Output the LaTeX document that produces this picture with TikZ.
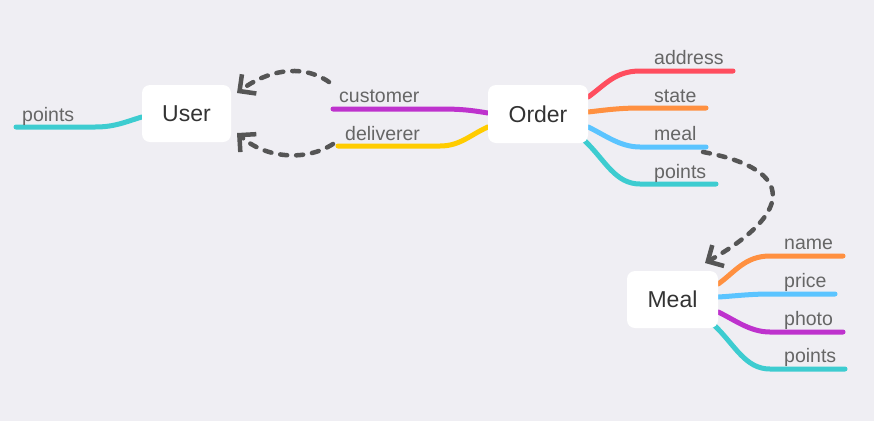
\documentclass[tikz,border=0pt]{standalone}
\usepackage{fontspec}
\setmainfont{Liberation Sans}
\usetikzlibrary{arrows.meta}
\definecolor{bg}{RGB}{239,238,243}
\definecolor{cCyan}{RGB}{61,204,208}
\definecolor{cPurple}{RGB}{190,50,205}
\definecolor{cYellow}{RGB}{255,204,0}
\definecolor{cRed}{RGB}{255,77,94}
\definecolor{cOrange}{RGB}{255,144,64}
\definecolor{cBlue}{RGB}{91,196,255}
\definecolor{cDash}{RGB}{85,85,85}
\definecolor{cLabel}{RGB}{102,102,102}
\definecolor{cText}{RGB}{51,51,51}
\tikzset{
  topic/.style={fill=white, rounded corners=8pt, inner sep=0pt, text=cText,
    font=\fontsize{23}{27}\selectfont},
  branch/.style={line width=5pt, line cap=round},
  lbl/.style={anchor=base west, inner sep=0pt, text=cLabel,
    font=\fontsize{19.5}{23}\selectfont},
  rel/.style={line width=4.5pt, cDash, dash pattern=on 7pt off 9pt, line cap=round,
    -{Straight Barb[length=12pt,width=24pt,line width=4.5pt]}},
}
\begin{document}
\begin{tikzpicture}[x=1pt,y=-1pt]
\fill[bg] (0,0) rectangle (874,421);
\useasboundingbox (0,0) rectangle (874,421);

% node positions
\path (186.5,113.5) node[minimum width=89pt,minimum height=57pt] (User) {};
\path (538,114) node[minimum width=100pt,minimum height=58pt] (Order) {};
\path (672.5,299.5) node[minimum width=91pt,minimum height=57pt] (Meal) {};

% leaf end coordinates
\coordinate (uPts) at (16,127);
\coordinate (oCus) at (333,109);
\coordinate (oDel) at (338,146);
\coordinate (oAdr) at (733,71);
\coordinate (oSta) at (706,108);
\coordinate (oMea) at (706,147);
\coordinate (oPts) at (716,184);
\coordinate (mNam) at (843,256);
\coordinate (mPri) at (835,294);
\coordinate (mPho) at (843,332);
\coordinate (mPts) at (845,369);

% branches
\draw[branch,cCyan] (User.west|-0,117) .. controls (125,122) and (115,127) .. (95,127) -- (uPts);
\draw[branch,cPurple] (Order.west|-0,113) .. controls (470,110) and (460,109) .. (440,109) -- (oCus);
\draw[branch,cYellow] (Order.west|-0,127) .. controls (470,135) and (460,146) .. (440,146) -- (oDel);
\draw[branch,cRed] (Order.east|-0,97) .. controls (605,85) and (615,71) .. (640,71) -- (oAdr);
\draw[branch,cOrange] (Order.east|-0,112) .. controls (605,110) and (620,108) .. (640,108) -- (oSta);
\draw[branch,cBlue] (Order.east|-0,127) .. controls (605,135) and (620,147) .. (640,147) -- (oMea);
\draw[branch,cCyan] (585,141) .. controls (605,160) and (615,184) .. (640,184) -- (oPts);
\draw[branch,cOrange] (Meal.east|-0,284) .. controls (735,272) and (745,256) .. (770,256) -- (mNam);
\draw[branch,cBlue] (Meal.east|-0,297) .. controls (735,296) and (750,294) .. (770,294) -- (mPri);
\draw[branch,cPurple] (Meal.east|-0,312) .. controls (735,320) and (750,332) .. (770,332) -- (mPho);
\draw[branch,cCyan] (714,325) .. controls (735,345) and (745,369) .. (770,369) -- (mPts);

% topic boxes
\node[topic,minimum width=89pt,minimum height=57pt] (UserB) at (User) {User};
\node[topic,minimum width=100pt,minimum height=58pt] (OrderB) at (Order) {Order};
\node[topic,minimum width=91pt,minimum height=57pt] (MealB) at (Meal) {Meal};

% labels
\node[lbl] (lUPts) at (22,121) {points};
\node[lbl] (lCus) at (339,102) {customer};
\node[lbl] (lDel) at (345,140) {deliverer};
\node[lbl] (lAdr) at (654,64) {address};
\node[lbl] (lSta) at (654,102) {state};
\node[lbl] (lMea) at (654,140) {meal};
\node[lbl] (lOPts) at (654,178) {points};
\node[lbl] (lNam) at (784,249) {name};
\node[lbl] (lPri) at (784,287) {price};
\node[lbl] (lPho) at (784,325) {photo};
\node[lbl] (lMPts) at (784,362) {points};

% relations
\coordinate (sCus) at (329,82);
\coordinate (sDel) at (333,144);
\coordinate (sMea) at (703,152);
\coordinate (tU1) at (237,93);
\coordinate (tU2) at (237,133);
\coordinate (tM) at (705,263);
\draw[rel] (sCus) .. controls (300,62) and (265,72) .. (tU1);
\draw[rel] (sDel) .. controls (305,162) and (265,158) .. (tU2);
\draw[rel] (sMea) .. controls (800,170) and (790,215) .. (tM);
\end{tikzpicture}
\end{document}
